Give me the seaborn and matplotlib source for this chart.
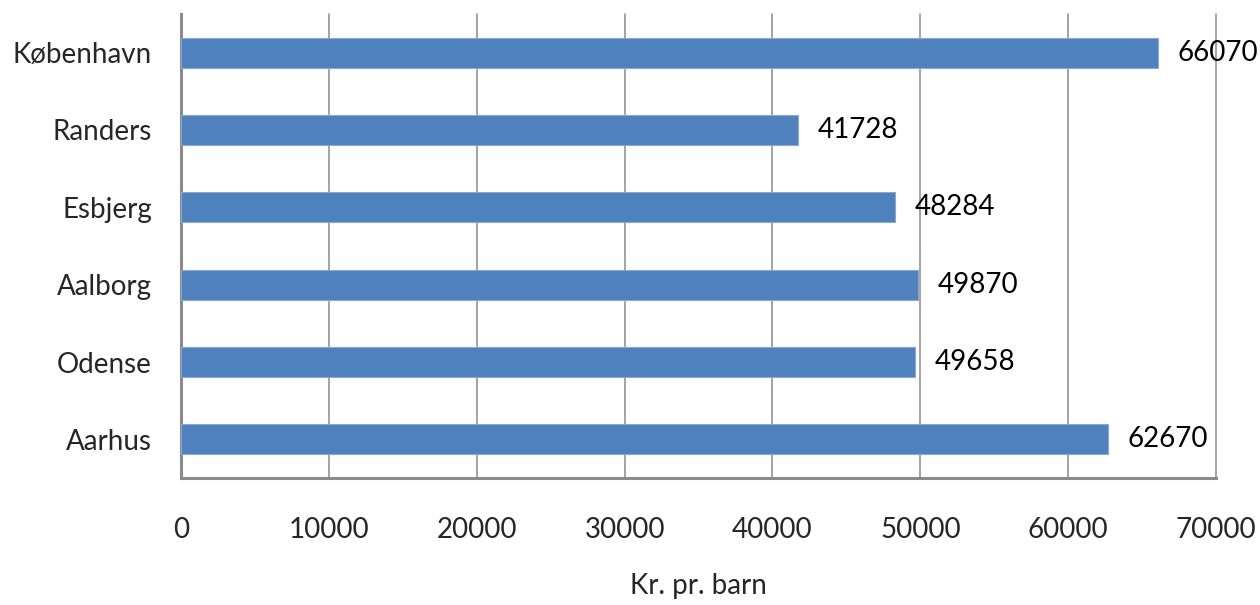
import pandas as pd
import matplotlib.pyplot as plt
import seaborn as sns

# Data
byer = ['København', 'Randers', 'Esbjerg', 'Aalborg', 'Odense', 'Aarhus']
kr_pr_barn = [66070, 41728, 48284, 49870, 49658, 62670]
x_ticks = [0, 10000, 20000, 30000, 40000, 50000, 60000, 70000]

df = pd.DataFrame({'by': byer, 'kr': kr_pr_barn})

sns.set_style("white")
plt.rcParams['font.family'] = ['Lato', 'DejaVu Sans']

fig = plt.figure(figsize=(12.6, 6.05), dpi=100)
ax = fig.add_axes([0.1437, 0.2099, 0.8214, 0.7670])

sns.barplot(x='kr', y='by', data=df, orient='h', color='#4F81BD',
            saturation=1, width=0.39, ax=ax, zorder=3,
            edgecolor='#86a9d6', linewidth=0.8)

# Værdier ved siden af søjlerne
for i, v in enumerate(kr_pr_barn):
    ax.annotate(str(v), xy=(v, i), xytext=(14, 0), textcoords='offset points',
                va='center', ha='left', fontsize=20, color='black',
                annotation_clip=False)

ax.set_xlim(0, 70000)
ax.set_ylim(5.5, -0.5)
ax.set_xticks(x_ticks)
ax.set_xticklabels([str(t) for t in x_ticks])

grid_color = '#8a8a8a'
for t in x_ticks[1:]:
    ax.axvline(t, color=grid_color, lw=1.1, zorder=1, clip_on=False)

for s in ['top', 'right']:
    ax.spines[s].set_visible(False)
for s in ['left', 'bottom']:
    ax.spines[s].set_color(grid_color)
    ax.spines[s].set_linewidth(2.2)

ax.tick_params(axis='x', length=0, pad=28, labelsize=20)
ax.tick_params(axis='y', length=0, pad=21, labelsize=20)
ax.set_ylabel('')
ax.set_xlabel('Kr. pr. barn', fontsize=20, labelpad=22)

plt.savefig('out.png', dpi=100)
